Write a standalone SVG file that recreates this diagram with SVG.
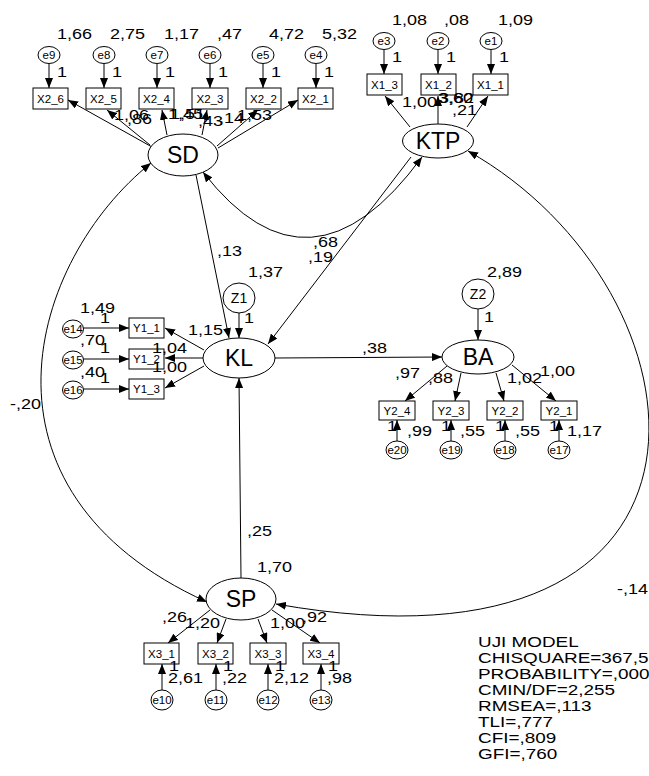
<svg xmlns="http://www.w3.org/2000/svg" width="649" height="776" viewBox="0 0 649 776">
<style>
.ln{stroke:#000;stroke-width:1;fill:none}
.a{marker-end:url(#ah)}
.c{marker-start:url(#ah);marker-end:url(#ah)}
.sh{fill:#fff;stroke:#000;stroke-width:1}
.n{font-family:"Liberation Sans",Arial,sans-serif;font-size:15px;fill:#000;transform:scaleX(1.2);transform-box:fill-box;transform-origin:0 50%}
.u{font-family:"Liberation Sans",Arial,sans-serif;font-size:15.5px;fill:#000;transform:scaleX(1.22);transform-box:fill-box;transform-origin:0 50%}
.bx{font-family:"Liberation Sans",Arial,sans-serif;font-size:11.5px;text-anchor:middle;fill:#000}
.el{font-family:"Liberation Sans",Arial,sans-serif;font-size:11.5px;text-anchor:middle;fill:#000}
.lt{font-family:"Liberation Sans",Arial,sans-serif;font-size:23px;text-anchor:middle;fill:#000}
.zl{font-family:"Liberation Sans",Arial,sans-serif;font-size:14px;text-anchor:middle;fill:#000}
</style>
<defs>
<marker id="ah" viewBox="0 0 10 8" refX="10" refY="4" markerWidth="10" markerHeight="8" markerUnits="userSpaceOnUse" orient="auto-start-reverse"><path d="M0,0L10,4L0,8z" fill="#000"/></marker>
</defs>

<g id="connectors">
<path class="ln a" d="M152,147L68,100"/>
<path class="ln a" d="M150,145L107,110"/>
<path class="ln a" d="M167,135L162,110"/>
<path class="ln a" d="M202,135L207,110"/>
<path class="ln a" d="M217,146L258,110"/>
<path class="ln a" d="M218,148L298,100"/>
<path class="ln a" d="M49,64L49,88"/>
<path class="ln a" d="M104,64L104,88"/>
<path class="ln a" d="M157,64L157,88"/>
<path class="ln a" d="M210,64L210,88"/>
<path class="ln a" d="M263,64L263,88"/>
<path class="ln a" d="M316,64L316,88"/>
<path class="ln a" d="M410,127L385,96"/>
<path class="ln a" d="M438,124L438,96"/>
<path class="ln a" d="M467,127L488,96"/>
<path class="ln a" d="M384,50L384,74"/>
<path class="ln a" d="M438,50L438,74"/>
<path class="ln a" d="M491,50L491,74"/>
<path class="ln a" d="M204,350L165,328"/>
<path class="ln a" d="M203,358L165,358"/>
<path class="ln a" d="M204,366L165,388"/>
<path class="ln a" d="M83,328L129,328"/>
<path class="ln a" d="M83,359L129,359"/>
<path class="ln a" d="M83,389L129,389"/>
<path class="ln a" d="M447,366L405,401"/>
<path class="ln a" d="M461,373L455,401"/>
<path class="ln a" d="M496,373L504,401"/>
<path class="ln a" d="M512,365L556,401"/>
<path class="ln a" d="M397,441L397,420"/>
<path class="ln a" d="M451,441L451,420"/>
<path class="ln a" d="M505,441L505,420"/>
<path class="ln a" d="M559,441L559,420"/>
<path class="ln a" d="M210,610L168,643"/>
<path class="ln a" d="M226,619L217,643"/>
<path class="ln a" d="M258,619L267,643"/>
<path class="ln a" d="M272,610L320,643"/>
<path class="ln a" d="M162,690L162,664"/>
<path class="ln a" d="M216,690L216,664"/>
<path class="ln a" d="M268,690L268,664"/>
<path class="ln a" d="M321,690L321,664"/>
<path class="ln a" d="M196,175L229,338"/>
<path class="ln a" d="M411,157L268,344"/>
<path class="ln a" d="M239,313L239,338"/>
<path class="ln a" d="M478,309L478,340"/>
<path class="ln a" d="M275,358L442,357"/>
<path class="ln a" d="M241,578L239,378"/>
<path class="ln c" d="M203,172Q310,310 422,157"/>
<path class="ln c" d="M151,163C30,260 -40,490 207,602"/>
<path class="ln c" d="M468,151C715,290 760,690 276,604"/>
</g>

<g id="SD"><ellipse class="sh" cx="183" cy="155" rx="35" ry="21"/><text class="lt" x="183" y="163">SD</text></g>
<g id="KTP"><ellipse class="sh" cx="438" cy="141" rx="35.5" ry="17"/><text class="lt" x="438" y="149">KTP</text></g>
<g id="KL"><ellipse class="sh" cx="239" cy="358" rx="36" ry="20"/><text class="lt" x="239" y="366">KL</text></g>
<g id="BA"><ellipse class="sh" cx="478" cy="357" rx="36" ry="17"/><text class="lt" x="478" y="365">BA</text></g>
<g id="SP"><ellipse class="sh" cx="241" cy="599" rx="35" ry="21"/><text class="lt" x="241" y="607">SP</text></g>
<g id="Z1"><ellipse class="sh" cx="239" cy="298" rx="16" ry="15"/><text class="zl" x="239" y="303">Z1</text></g>
<g id="Z2"><ellipse class="sh" cx="478" cy="294" rx="16" ry="15"/><text class="zl" x="478" y="299">Z2</text></g>

<g id="X2_6"><rect class="sh" x="33" y="88" width="35" height="21"/><text class="bx" x="50.5" y="102.5">X2_6</text></g>
<g id="X2_5"><rect class="sh" x="86" y="88" width="35" height="21"/><text class="bx" x="103.5" y="102.5">X2_5</text></g>
<g id="X2_4"><rect class="sh" x="139" y="88" width="35" height="21"/><text class="bx" x="156.5" y="102.5">X2_4</text></g>
<g id="X2_3"><rect class="sh" x="192" y="88" width="36" height="21"/><text class="bx" x="210" y="102.5">X2_3</text></g>
<g id="X2_2"><rect class="sh" x="246" y="88" width="35" height="21"/><text class="bx" x="263.5" y="102.5">X2_2</text></g>
<g id="X2_1"><rect class="sh" x="298" y="88" width="35" height="21"/><text class="bx" x="315.5" y="102.5">X2_1</text></g>
<g id="e9"><ellipse class="sh" cx="49" cy="55" rx="11" ry="8.5"/><text class="el" x="49" y="59">e9</text></g>
<g id="e8"><ellipse class="sh" cx="104" cy="55" rx="11" ry="8.5"/><text class="el" x="104" y="59">e8</text></g>
<g id="e7"><ellipse class="sh" cx="157" cy="55" rx="11" ry="8.5"/><text class="el" x="157" y="59">e7</text></g>
<g id="e6"><ellipse class="sh" cx="210" cy="55" rx="11" ry="8.5"/><text class="el" x="210" y="59">e6</text></g>
<g id="e5"><ellipse class="sh" cx="263" cy="55" rx="11" ry="8.5"/><text class="el" x="263" y="59">e5</text></g>
<g id="e4"><ellipse class="sh" cx="316" cy="55" rx="11" ry="8.5"/><text class="el" x="316" y="59">e4</text></g>

<g id="X1_3"><rect class="sh" x="367" y="74" width="35" height="21"/><text class="bx" x="384.5" y="88.5">X1_3</text></g>
<g id="X1_2"><rect class="sh" x="421" y="74" width="35" height="21"/><text class="bx" x="438.5" y="88.5">X1_2</text></g>
<g id="X1_1"><rect class="sh" x="473" y="74" width="35" height="21"/><text class="bx" x="490.5" y="88.5">X1_1</text></g>
<g id="e3"><ellipse class="sh" cx="384" cy="41" rx="11" ry="8.5"/><text class="el" x="384" y="45">e3</text></g>
<g id="e2"><ellipse class="sh" cx="438" cy="41" rx="11" ry="8.5"/><text class="el" x="438" y="45">e2</text></g>
<g id="e1"><ellipse class="sh" cx="491" cy="41" rx="11" ry="8.5"/><text class="el" x="491" y="45">e1</text></g>

<g id="Y1_1"><rect class="sh" x="129" y="318" width="35" height="20"/><text class="bx" x="146.5" y="332">Y1_1</text></g>
<g id="Y1_2"><rect class="sh" x="129" y="349" width="35" height="20"/><text class="bx" x="146.5" y="363">Y1_2</text></g>
<g id="Y1_3"><rect class="sh" x="129" y="379" width="35" height="20"/><text class="bx" x="146.5" y="393">Y1_3</text></g>
<g id="e14"><ellipse class="sh" cx="73" cy="329" rx="10.5" ry="9"/><text class="el" x="73" y="333">e14</text></g>
<g id="e15"><ellipse class="sh" cx="73" cy="360" rx="10.5" ry="9"/><text class="el" x="73" y="364">e15</text></g>
<g id="e16"><ellipse class="sh" cx="73" cy="390" rx="10.5" ry="9"/><text class="el" x="73" y="394">e16</text></g>

<g id="Y2_4"><rect class="sh" x="379" y="401" width="36" height="19"/><text class="bx" x="397" y="414.5">Y2_4</text></g>
<g id="Y2_3"><rect class="sh" x="433" y="401" width="36" height="19"/><text class="bx" x="451" y="414.5">Y2_3</text></g>
<g id="Y2_2"><rect class="sh" x="487" y="401" width="36" height="19"/><text class="bx" x="505" y="414.5">Y2_2</text></g>
<g id="Y2_1"><rect class="sh" x="541" y="401" width="36" height="19"/><text class="bx" x="559" y="414.5">Y2_1</text></g>
<g id="e20"><ellipse class="sh" cx="397" cy="450" rx="11" ry="9"/><text class="el" x="397" y="454">e20</text></g>
<g id="e19"><ellipse class="sh" cx="451" cy="450" rx="11" ry="9"/><text class="el" x="451" y="454">e19</text></g>
<g id="e18"><ellipse class="sh" cx="505" cy="450" rx="11" ry="9"/><text class="el" x="505" y="454">e18</text></g>
<g id="e17"><ellipse class="sh" cx="559" cy="450" rx="11" ry="9"/><text class="el" x="559" y="454">e17</text></g>

<g id="X3_1"><rect class="sh" x="144" y="643" width="35" height="21"/><text class="bx" x="161.5" y="657.5">X3_1</text></g>
<g id="X3_2"><rect class="sh" x="198" y="643" width="35" height="21"/><text class="bx" x="215.5" y="657.5">X3_2</text></g>
<g id="X3_3"><rect class="sh" x="250" y="643" width="36" height="21"/><text class="bx" x="268" y="657.5">X3_3</text></g>
<g id="X3_4"><rect class="sh" x="303" y="643" width="36" height="21"/><text class="bx" x="321" y="657.5">X3_4</text></g>
<g id="e10"><ellipse class="sh" cx="162" cy="700" rx="11" ry="10"/><text class="el" x="162" y="704">e10</text></g>
<g id="e11"><ellipse class="sh" cx="216" cy="700" rx="11" ry="10"/><text class="el" x="216" y="704">e11</text></g>
<g id="e12"><ellipse class="sh" cx="268" cy="700" rx="11" ry="10"/><text class="el" x="268" y="704">e12</text></g>
<g id="e13"><ellipse class="sh" cx="321" cy="700" rx="11" ry="10"/><text class="el" x="321" y="704">e13</text></g>

<g id="labels">
<text class="n" x="57" y="39">1,66</text>
<text class="n" x="110" y="39">2,75</text>
<text class="n" x="164" y="39">1,17</text>
<text class="n" x="217" y="39">,47</text>
<text class="n" x="269" y="39">4,72</text>
<text class="n" x="322" y="39">5,32</text>
<text class="n" x="57" y="77">1</text>
<text class="n" x="112" y="77">1</text>
<text class="n" x="165" y="77">1</text>
<text class="n" x="218" y="77">1</text>
<text class="n" x="271" y="77">1</text>
<text class="n" x="324" y="77">1</text>
<text class="n" x="114" y="120">1,06</text>
<text class="n" x="127" y="124">,86</text>
<text class="n" x="168" y="119">1,45</text>
<text class="n" x="170" y="119">1,51</text>
<text class="n" x="198" y="126">,43</text>
<text class="n" x="219" y="123">,14</text>
<text class="n" x="237" y="120">1,53</text>

<text class="n" x="392" y="25">1,08</text>
<text class="n" x="444" y="25">,08</text>
<text class="n" x="498" y="25">1,09</text>
<text class="n" x="392" y="62">1</text>
<text class="n" x="446" y="62">1</text>
<text class="n" x="499" y="62">1</text>
<text class="n" x="402" y="107">1,00</text>
<text class="n" x="438" y="103">3,60</text>
<text class="n" x="439" y="103">3,82</text>
<text class="n" x="452" y="115">,21</text>

<text class="n" x="80" y="313">1,49</text>
<text class="n" x="80" y="345">,70</text>
<text class="n" x="80" y="377">,40</text>
<text class="n" x="100" y="323">1</text>
<text class="n" x="100" y="353">1</text>
<text class="n" x="100" y="383">1</text>
<text class="n" x="188" y="335">1,15</text>
<text class="n" x="152" y="353">1,04</text>
<text class="n" x="152" y="372">1,00</text>
<text class="n" x="248" y="277">1,37</text>
<text class="n" x="244" y="323">1</text>
<text class="n" x="217" y="256">,13</text>
<text class="n" x="313" y="247">,68</text>
<text class="n" x="308" y="262">,19</text>
<text class="n" x="362" y="353">,38</text>
<text class="n" x="247" y="536">,25</text>
<text class="n" x="10" y="409">-,20</text>
<text class="n" x="617" y="594">-,14</text>

<text class="n" x="487" y="277">2,89</text>
<text class="n" x="484" y="322">1</text>
<text class="n" x="395" y="378">,97</text>
<text class="n" x="428" y="383">,88</text>
<text class="n" x="507" y="383">1,02</text>
<text class="n" x="540" y="376">1,00</text>
<text class="n" x="387" y="431">1</text>
<text class="n" x="441" y="431">1</text>
<text class="n" x="495" y="431">1</text>
<text class="n" x="549" y="431">1</text>
<text class="n" x="407" y="436">,99</text>
<text class="n" x="460" y="436">,55</text>
<text class="n" x="515" y="436">,55</text>
<text class="n" x="567" y="436">1,17</text>

<text class="n" x="257" y="572">1,70</text>
<text class="n" x="162" y="622">,26</text>
<text class="n" x="185" y="628">1,20</text>
<text class="n" x="270" y="628">1,00</text>
<text class="n" x="302" y="622">,92</text>
<text class="n" x="169" y="671">1</text>
<text class="n" x="223" y="671">1</text>
<text class="n" x="275" y="671">1</text>
<text class="n" x="328" y="671">1</text>
<text class="n" x="168" y="683">2,61</text>
<text class="n" x="222" y="683">,22</text>
<text class="n" x="274" y="683">2,12</text>
<text class="n" x="327" y="683">,98</text>
</g>

<g id="fit">
<text class="u" x="478" y="647">UJI MODEL</text>
<text class="u" x="478" y="663">CHISQUARE=367,5</text>
<text class="u" x="478" y="679">PROBABILITY=,000</text>
<text class="u" x="478" y="695">CMIN/DF=2,255</text>
<text class="u" x="478" y="711">RMSEA=,113</text>
<text class="u" x="478" y="727">TLI=,777</text>
<text class="u" x="478" y="743">CFI=,809</text>
<text class="u" x="478" y="759">GFI=,760</text>
</g>
</svg>
